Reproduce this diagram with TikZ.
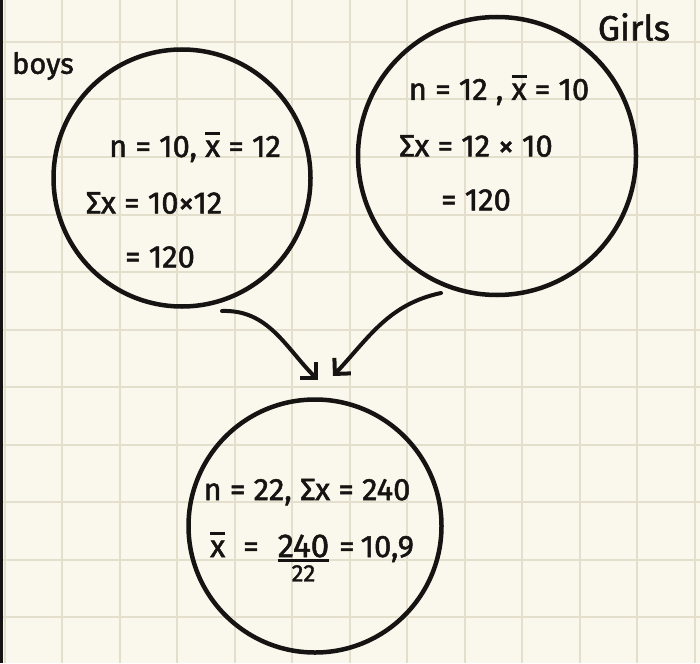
\documentclass[tikz,border=0pt]{standalone}
\usepackage{fontspec}
\setmainfont{Fira Sans}[FakeBold=1.6]
\usetikzlibrary{arrows.meta}
\definecolor{paper}{RGB}{250,247,236}
\definecolor{gridc}{RGB}{228,223,205}
\definecolor{ink}{RGB}{22,20,18}
\newcommand{\xbar}{\leavevmode\setbox0\hbox{x}\rlap{\raisebox{0.72em}{\rule{\wd0}{0.09em}}}\box0}
\newcommand{\myfrac}[2]{{\fontsize{33}{34}\selectfont\vtop{\halign{\hfil##\hfil\cr #1\cr\noalign{\kern2pt\hrule height 2.8pt\kern3pt}{\fontsize{24}{26}\selectfont #2}\cr}}}}
\begin{document}
\begin{tikzpicture}[x=1pt,y=-1pt,
  bubble/.style={circle, draw=ink, line width=4.5pt, inner sep=0pt},
  hand/.style={font=\fontsize{31}{36}\selectfont, text=ink, inner sep=0pt},
  tag/.style={text=ink, inner sep=0pt},
  flow/.style={draw=ink, line width=4pt, line cap=round, -{Straight Barb[angle=90:16pt]}}]
\fill[paper] (0,0) rectangle (700,663);
\useasboundingbox (0,0) rectangle (700,663);
\foreach \k in {0,...,12} {
  \draw[gridc, line width=2pt] ({4.5+57.5*\k},0) -- ({4.5+57.5*\k},663);
  \draw[gridc, line width=2pt] (0,{-15.5+57.5*\k}) -- (700,{-15.5+57.5*\k});
}
\fill[ink] (0,0) rectangle (3,663);

% circles
\node[bubble, minimum size=257pt] (boys) at (182,178) {};
\node[bubble, minimum size=278pt] (girls) at (497,156) {};
\node[bubble, minimum size=253pt] (total) at (315,526) {};

% labels
\node[tag, font=\fontsize{29}{32}\selectfont] (boyslbl) at (43,66) {boys};
\node[tag, font=\fontsize{35}{38}\selectfont] (girlslbl) at (634,27) {Girls};

% boys text
\node[hand] (b1) at (195,147) {n = 10, \xbar{} = 12};
\node[hand] (b2) at (154,203) {Σx = 10×12};
\node[hand] (b3) at (160,257) {= 120};

% girls text
\node[hand] (g1) at (499,90) {n = 12 , \xbar{} = 10};
\node[hand] (g2) at (476,146) {Σx = 12 × 10};
\node[hand] (g3) at (476,200) {= 120};

% total text
\node[hand, anchor=base west] (t2) at (210,557) {\xbar{}\hspace{18pt}=\hspace{19pt}\myfrac{240}{22}\kern 10pt=\kern 6pt 10,9};
\node[hand] (t1) at (307,492) {n = 22, Σx = 240};

% arrows
\coordinate (sL) at (222,311);
\coordinate (eL) at (318,380);
\coordinate (sR) at (441,293);
\coordinate (eR) at (333,376);
\draw[flow] (sL) to[out=2, in=135] (eL);
\draw[flow] (sR) to[out=192, in=47] (eR);
\end{tikzpicture}
\end{document}
